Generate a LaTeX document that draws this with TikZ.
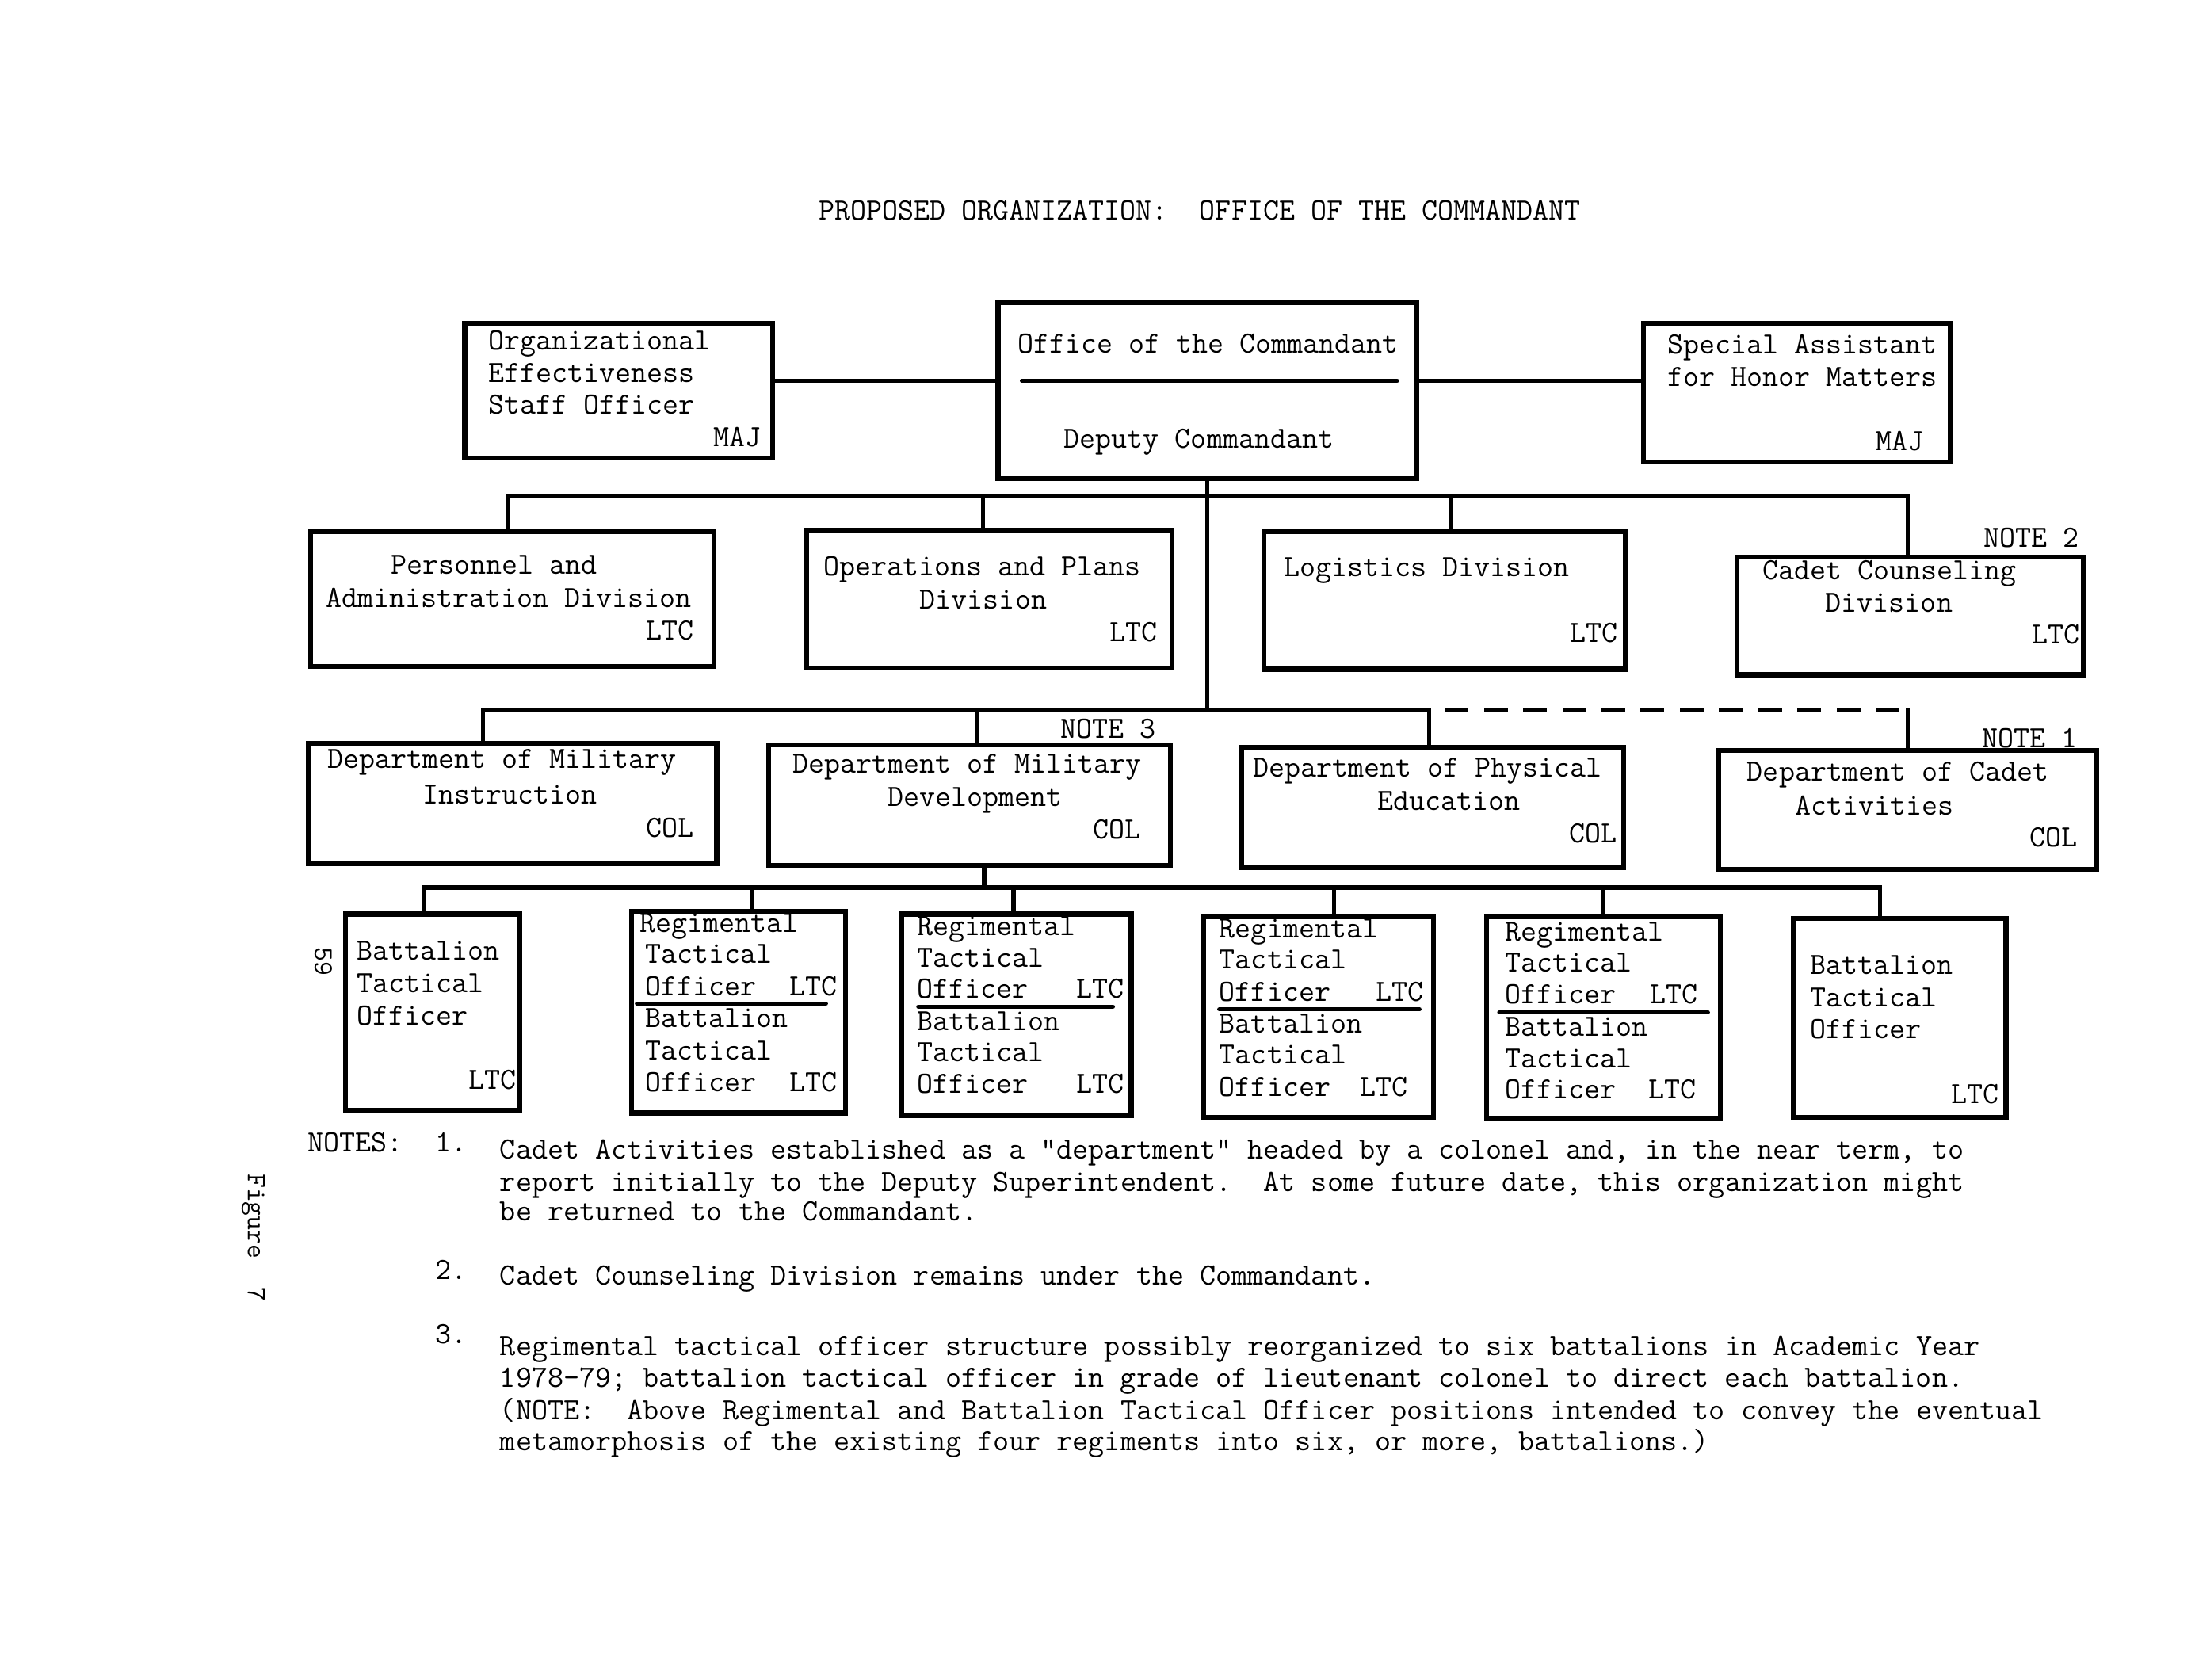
\documentclass[tikz,border=0pt]{standalone}
\usepackage{fontspec}
\usetikzlibrary{calc}
\frenchspacing
\newcommand\obox[5]{\node[box, minimum width={(#4-#2)*0.05cm}, minimum height={(#5-#3)*0.05cm}] (#1) at (#2,#3) {};}
\newcommand\twsel{\ttfamily\fontsize{31.3}{36}\selectfont\addfontfeatures{FakeBold=2}}
\newcommand\notesel{\ttfamily\fontsize{31.4}{36}\selectfont\addfontfeatures{FakeBold=2}}
\newcommand\sidesel{\ttfamily\fontsize{28}{32}\selectfont\addfontfeatures{FakeBold=1.2}}
\begin{document}
\begin{tikzpicture}[x=0.05cm,y=-0.05cm,
  box/.style={draw, line width=5pt, inner sep=0pt, outer sep=0pt, anchor=north west},
  conn/.style={line width=4.2pt, line cap=rect},
  rule/.style={line width=4.2pt, line cap=round},
  dashconn/.style={line width=4.2pt, dash pattern=on 0.85cm off 0.55cm},
  tl/.style={font=\twsel, inner sep=0pt, anchor=base west, yshift=-0.3cm},
  tr/.style={tl, anchor=base east},
  tc/.style={tl, anchor=base},
  nl/.style={tl, font=\notesel},
  side/.style={font=\sidesel, inner sep=0pt, rotate=-90, anchor=center}]
\fill[white] (0,0) rectangle (1568,1200);
\useasboundingbox (0,0) rectangle (1568,1200);

% ---- boxes ----
\obox{org}{332}{231}{552}{327}
\obox{office}{713}{216}{1012}{342}
\obox{special}{1174}{231}{1393}{330}
\obox{pers}{222}{380}{510}{476}
\obox{ops}{576}{379}{837}{477}
\obox{log}{903}{380}{1161}{478}
\obox{couns}{1241}{398}{1488}{482}
\obox{dmi}{220}{531}{512}{617}
\obox{dmd}{549}{532}{836}{618}
\obox{dpe}{887}{534}{1160}{620}
\obox{dca}{1228}{536}{1498}{621}
\obox{b1}{247}{653}{371}{793}
\obox{r2}{451}{651}{604}{795}
\obox{r3}{644}{653}{808}{797}
\obox{r4}{860}{655}{1024}{798}
\obox{r5}{1062}{655}{1229}{799}
\obox{b6}{1281}{656}{1433}{798}

% ---- connectors ----
\coordinate (hl) at (0,272);
\coordinate (bus2) at (0,354);
\coordinate (bus3) at (0,507);
\coordinate (bus4) at (0,634);
\draw[conn] (org.east |- hl) -- (office.west |- hl);
\draw[conn] (office.east |- hl) -- (special.west |- hl);

\coordinate (dpers) at ($(pers.north west)+(141,0)$);
\coordinate (dops) at ($(ops.north west)+(126,0)$);
\coordinate (dlog) at ($(log.north west)+(133,0)$);
\coordinate (dcouns) at ($(couns.north west)+(122,0)$);
\draw[conn] (dpers) -- (dpers |- bus2) -- (dcouns |- bus2) -- (dcouns);
\draw[conn] (dops) -- (dops |- bus2);
\draw[conn] (dlog) -- (dlog |- bus2);
\draw[conn] (office.south) -- (office.south |- bus3);

\coordinate (ddmi) at ($(dmi.north west)+(125,0)$);
\coordinate (ddmd) at ($(dmd.north west)+(149,0)$);
\coordinate (ddpe) at ($(dpe.north west)+(134,0)$);
\coordinate (ddca) at ($(dca.north west)+(135,0)$);
\draw[conn] (ddmi) -- (ddmi |- bus3) -- (ddpe |- bus3) -- (ddpe);
\draw[conn] (ddmd) -- (ddmd |- bus3);
\draw[dashconn] (ddpe |- bus3) ++(11,0) -- (ddca |- bus3);
\draw[conn] (ddca |- bus3) -- (ddca);

\coordinate (ddown) at ($(dmd.south west)+(154,0)$);
\coordinate (d1) at ($(b1.north west)+(56,0)$);
\coordinate (d2) at ($(r2.north west)+(86,0)$);
\coordinate (d3) at ($(r3.north west)+(80,0)$);
\coordinate (d4) at ($(r4.north west)+(93,0)$);
\coordinate (d5) at ($(r5.north west)+(83,0)$);
\coordinate (d6) at ($(b6.north west)+(62,0)$);
\draw[conn] (ddown) -- (ddown |- bus4);
\draw[conn] (d1) -- (d1 |- bus4) -- (d6 |- bus4) -- (d6);
\draw[conn] (d2) -- (d2 |- bus4);
\draw[conn] (d3) -- (d3 |- bus4);
\draw[conn] (d4) -- (d4 |- bus4);
\draw[conn] (d5) -- (d5 |- bus4);

% ---- inner rules ----
\draw[rule] (730,272) -- (998,272);
\draw[rule] (455,717) -- (590,717);
\draw[rule] (656,719) -- (795,719);
\draw[rule] (871,721) -- (1014,721);
\draw[rule] (1071,723) -- (1220,723);

% ---- title ----
\node[tc] (title) at (857,151) {PROPOSED ORGANIZATION:\ \ OFFICE OF THE COMMANDANT};

% ---- row 1 texts ----
\node[tl] (t-org1) at (349,244) {Organizational};
\node[tl] (t-org2) at (349,267) {Effectiveness};
\node[tl] (t-org3) at (349,290) {Staff Officer};
\node[tr] (t-org4) at (544,313) {MAJ};
\node[tl] (t-off1) at (727,246) {Office of the Commandant};
\node[tl] (t-off2) at (760,314) {Deputy Commandant};
\node[tl] (t-sp1) at (1191,247) {Special Assistant};
\node[tl] (t-sp2) at (1191,270) {for Honor Matters};
\node[tr] (t-sp3) at (1374,316) {MAJ};

% ---- row 2 texts ----
\node[tl] (t-pe1) at (279,404) {Personnel and};
\node[tl] (t-pe2) at (233,428) {Administration Division};
\node[tr] (t-pe3) at (496,451) {\addfontfeatures{FakeBold=5}LTC};
\node[tl] (t-op1) at (588,405) {Operations and Plans};
\node[tl] (t-op2) at (657,429) {Division};
\node[tr] (t-op3) at (827,452) {LTC};
\node[tl] (t-lo1) at (917,406) {Logistics Division};
\node[tr] (t-lo2) at (1156,453) {LTC};
\node[tr] (t-n2) at (1485,385) {NOTE 2};
\node[tl] (t-cc1) at (1259,408) {Cadet Counseling};
\node[tl] (t-cc2) at (1304,431) {Division};
\node[tr] (t-cc3) at (1486,454) {LTC};

% ---- row 3 texts ----
\node[tl] (t-mi1) at (234,543) {Department of Military};
\node[tl] (t-mi2) at (302,568) {Instruction};
\node[tr] (t-mi3) at (496,592) {COL};
\node[tr] (t-n3) at (826,521) {NOTE 3};
\node[tl] (t-md1) at (566,546) {Department of Military};
\node[tl] (t-md2) at (634,570) {Development};
\node[tr] (t-md3) at (815,593) {COL};
\node[tl] (t-pd1) at (895,549) {Department of Physical};
\node[tl] (t-pd2) at (984,573) {Education};
\node[tr] (t-pd3) at (1155,596) {COL};
\node[tr] (t-n1) at (1484,528) {NOTE 1};
\node[tl] (t-ca1) at (1248,552) {Department of Cadet};
\node[tl] (t-ca2) at (1282,576) {Activities};
\node[tr] (t-ca3) at (1484,599) {COL};

% ---- row 4 texts ----
\node[tl] (t-b11) at (255,680) {Battalion};
\node[tl] (t-b12) at (255,703) {Tactical};
\node[tl] (t-b13) at (255,726) {Officer};
\node[tr] (t-b14) at (369,772) {LTC};

\node[tl] (t-r21) at (457,660) {Regimental};
\node[tl] (t-r22) at (461,682) {Tactical};
\node[tl] (t-r23) at (461,705) {Officer};
\node[tr] (t-r24) at (598,705) {LTC};
\node[tl] (t-r25) at (461,728) {Battalion};
\node[tl] (t-r26) at (461,751) {Tactical};
\node[tl] (t-r27) at (461,774) {Officer};
\node[tr] (t-r28) at (598,774) {LTC};

\node[tl] (t-r31) at (655,662) {Regimental};
\node[tl] (t-r32) at (655,685) {Tactical};
\node[tl] (t-r33) at (655,707) {Officer};
\node[tr] (t-r34) at (803,707) {LTC};
\node[tl] (t-r35) at (655,730) {Battalion};
\node[tl] (t-r36) at (655,752) {Tactical};
\node[tl] (t-r37) at (655,775) {Officer};
\node[tr] (t-r38) at (803,775) {LTC};

\node[tl] (t-r41) at (871,664) {Regimental};
\node[tl] (t-r42) at (871,686) {Tactical};
\node[tl] (t-r43) at (871,709) {Officer};
\node[tr] (t-r44) at (1017,709) {LTC};
\node[tl] (t-r45) at (871,732) {Battalion};
\node[tl] (t-r46) at (871,754) {Tactical};
\node[tl] (t-r47) at (871,777) {Officer};
\node[tr] (t-r48) at (1006,777) {LTC};

\node[tl] (t-r51) at (1075,666) {Regimental};
\node[tl] (t-r52) at (1075,688) {Tactical};
\node[tl] (t-r53) at (1075,711) {Officer};
\node[tr] (t-r54) at (1213,711) {LTC};
\node[tl] (t-r55) at (1075,734) {Battalion};
\node[tl] (t-r56) at (1075,757) {Tactical};
\node[tl] (t-r57) at (1075,779) {Officer};
\node[tr] (t-r58) at (1212,779) {LTC};

\node[tl] (t-b61) at (1293,690) {Battalion};
\node[tl] (t-b62) at (1293,713) {Tactical};
\node[tl] (t-b63) at (1293,736) {Officer};
\node[tr] (t-b64) at (1428,782) {LTC};

% ---- side texts ----
\node[side] (pg) at (231,687) {59};
\node[side] (fig) at (181,884) {Figure\ \ 7};

% ---- notes ----
\node[tl] (notes) at (220,817) {NOTES:};
\node[tl] (n1num) at (311,817) {1.};
\node[nl] (n1a) at (357,822) {Cadet Activities established as a "department" headed by a colonel and, in the near term, to};
\node[nl] (n1b) at (357,845) {report initially to the Deputy Superintendent.\ \ At some future date, this organization might};
\node[nl] (n1c) at (357,866) {be returned to the Commandant.};
\node[tl] (n2num) at (311,908) {2.};
\node[nl] (n2a) at (357,912) {Cadet Counseling Division remains under the Commandant.};
\node[tl] (n3num) at (311,954) {3.};
\node[nl] (n3a) at (357,962) {Regimental tactical officer structure possibly reorganized to six battalions in Academic Year};
\node[nl] (n3b) at (357,985) {1978-79; battalion tactical officer in grade of lieutenant colonel to direct each battalion.};
\node[nl] (n3c) at (357,1008) {(NOTE:\ \ Above Regimental and Battalion Tactical Officer positions intended to convey the eventual};
\node[nl] (n3d) at (357,1030) {metamorphosis of the existing four regiments into six, or more, battalions.)};
\end{tikzpicture}
\end{document}
